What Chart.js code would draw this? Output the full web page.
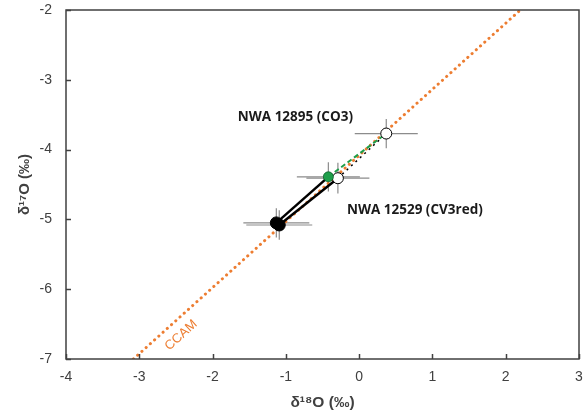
<!DOCTYPE html>
<html>
<head>
<meta charset="utf-8">
<script src="https://cdn.jsdelivr.net/npm/chart.js@4"></script>
<style>
  html, body { margin: 0; padding: 0; background: #fff; }
  #wrap { width: 586px; height: 414px; }
</style>
</head>
<body>
<div id="wrap"><canvas id="oxygenChart"></canvas></div>
<script>
// CCAM reference line end points (d18O, d17O)
var ccamX = [-3.08, 2.2];
var ccamY = [-7.0, -2.0];

// filled black points
var blackX = [-1.13, -1.09];
var blackY = [-5.05, -5.08];
var blackErrX = [0.45, 0.45];
var blackErrY = [0.21, 0.21];

// filled green point
var greenX = [-0.42];
var greenY = [-4.39];
var greenErrX = [0.43];
var greenErrY = [0.21];

// open circles
var openX = [0.37, -0.29];
var openY = [-3.77, -4.41];
var openErrX = [0.43, 0.43];
var openErrY = [0.21, 0.22];

var sampleNames = ['NWA 12895 (CO3)', 'NWA 12529 (CV3red)'];

function pts(xs, ys) {
    return xs.map(function (x, i) { return { x: x, y: ys[i] }; });
}

var errorSets = [
    { xs: blackX, ys: blackY, ex: blackErrX, ey: blackErrY },
    { xs: greenX, ys: greenY, ex: greenErrX, ey: greenErrY },
    { xs: openX, ys: openY, ex: openErrX, ey: openErrY }
];

var extrasPlugin = {
    id: 'extras',
    beforeDatasetsDraw: function (chart) {
        var ctx = chart.ctx, xs = chart.scales.x, ys = chart.scales.y;
        ctx.save();
        ctx.strokeStyle = '#8c8c8c';
        ctx.lineWidth = 1.2;
        errorSets.forEach(function (s) {
            s.xs.forEach(function (x, i) {
                var y = s.ys[i];
                var px = xs.getPixelForValue(x), py = ys.getPixelForValue(y);
                ctx.beginPath();
                ctx.moveTo(xs.getPixelForValue(x - s.ex[i]), py);
                ctx.lineTo(xs.getPixelForValue(x + s.ex[i]), py);
                ctx.moveTo(px, ys.getPixelForValue(y - s.ey[i]));
                ctx.lineTo(px, ys.getPixelForValue(y + s.ey[i]));
                ctx.stroke();
            });
        });
        ctx.restore();
    },
    afterDraw: function (chart) {
        var ctx = chart.ctx, a = chart.chartArea, xs = chart.scales.x, ys = chart.scales.y;
        ctx.save();
        // frame
        ctx.strokeStyle = '#404040';
        ctx.lineWidth = 1.5;
        ctx.strokeRect(a.left, a.top, a.right - a.left, a.bottom - a.top);
        // inward ticks on both axes
        ctx.beginPath();
        xs.ticks.forEach(function (t) {
            var p = Math.round(xs.getPixelForValue(t.value)) + 0.5;
            ctx.moveTo(p, a.bottom);
            ctx.lineTo(p, a.bottom - 5);
        });
        ys.ticks.forEach(function (t) {
            var p = Math.round(ys.getPixelForValue(t.value)) + 0.5;
            ctx.moveTo(a.left, p);
            ctx.lineTo(a.left + 5, p);
        });
        ctx.stroke();

        // sample labels
        ctx.fillStyle = '#1a1a1a';
        ctx.font = 'bold 13.5px "Open Sans", "Liberation Sans", sans-serif';
        ctx.textAlign = 'center';
        ctx.textBaseline = 'middle';
        ctx.fillText(sampleNames[0], xs.getPixelForValue(-0.87), ys.getPixelForValue(-3.53));
        ctx.fillText(sampleNames[1], xs.getPixelForValue(0.76), ys.getPixelForValue(-4.87));

        // CCAM label along the line
        var lx = xs.getPixelForValue(-2.43), ly = ys.getPixelForValue(-6.66);
        var ang = Math.atan2(ys.getPixelForValue(ccamY[1]) - ys.getPixelForValue(ccamY[0]),
                             xs.getPixelForValue(ccamX[1]) - xs.getPixelForValue(ccamX[0]));
        ctx.translate(lx, ly);
        ctx.rotate(ang);
        ctx.fillStyle = '#ED7D31';
        ctx.font = '13px "Liberation Sans", Arial, sans-serif';
        ctx.fillText('CCAM', 0, 0);
        ctx.restore();
    }
};

var ctx = document.getElementById('oxygenChart').getContext('2d');

var chart = new Chart(ctx, {
    type: 'scatter',
    data: {
        datasets: [
            {
                label: 'black points',
                data: pts(blackX, blackY),
                backgroundColor: '#000',
                borderColor: '#000',
                pointRadius: 6,
                order: 1
            },
            {
                label: 'green point',
                data: pts(greenX, greenY),
                backgroundColor: '#1e9e4a',
                borderColor: '#0d5e2a',
                borderWidth: 0.8,
                pointRadius: 5,
                order: 2
            },
            {
                label: 'open points',
                data: pts(openX, openY),
                backgroundColor: '#fff',
                borderColor: '#000',
                borderWidth: 1,
                pointRadius: 5.5,
                order: 3
            },
            {
                label: 'green trend',
                data: [{ x: greenX[0], y: greenY[0] }, { x: openX[0], y: openY[0] }],
                showLine: true,
                borderColor: '#1e9e4a',
                borderWidth: 2,
                borderDash: [5, 3],
                pointRadius: 0,
                order: 4
            },
            {
                label: 'open trend',
                data: [{ x: openX[1], y: openY[1] }, { x: openX[0], y: openY[0] }],
                showLine: true,
                borderColor: '#000',
                borderWidth: 1.5,
                borderDash: [2, 4],
                pointRadius: 0,
                order: 5
            },
            {
                label: 'black trend 1',
                data: [{ x: blackX[0], y: blackY[0] }, { x: greenX[0], y: greenY[0] }],
                showLine: true,
                borderColor: '#000',
                borderWidth: 2.5,
                pointRadius: 0,
                order: 6
            },
            {
                label: 'black trend 2',
                data: [{ x: blackX[1], y: blackY[1] }, { x: openX[1], y: openY[1] }],
                showLine: true,
                borderColor: '#000',
                borderWidth: 2.5,
                pointRadius: 0,
                order: 7
            },
            {
                label: 'CCAM',
                data: pts(ccamX, ccamY),
                showLine: true,
                borderColor: '#ED7D31',
                borderWidth: 3,
                borderDash: [0.1, 5.6],
                borderCapStyle: 'round',
                pointRadius: 0,
                order: 8
            }
        ]
    },
    options: {
        responsive: true,
        maintainAspectRatio: false,
        animation: false,
        layout: { padding: { top: 10, right: 5, left: 0, bottom: 0 } },
        plugins: {
            legend: { display: false },
            tooltip: { enabled: false }
        },
        scales: {
            x: {
                type: 'linear',
                min: -4,
                max: 3,
                ticks: {
                    stepSize: 1,
                    padding: 10,
                    color: '#404040',
                    font: { family: '"Liberation Sans", Arial, sans-serif', size: 14 }
                },
                grid: { display: false, drawTicks: false },
                border: { display: false },
                title: {
                    display: true,
                    text: 'δ¹⁸O (‰)',
                    color: '#404040',
                    padding: { top: 3, bottom: 2 },
                    font: { family: '"Liberation Sans", Arial, sans-serif', size: 15.5, weight: 'bold' }
                },
                afterFit: function (s) {
                    s.height = 55;
                    s.paddingLeft = 0;
                    s.paddingRight = 0;
                }
            },
            y: {
                type: 'linear',
                min: -7,
                max: -2,
                ticks: {
                    stepSize: 1,
                    padding: 14,
                    color: '#404040',
                    font: { family: '"Liberation Sans", Arial, sans-serif', size: 14 }
                },
                grid: { display: false, drawTicks: false },
                border: { display: false },
                title: {
                    display: true,
                    text: 'δ¹⁷O (‰)',
                    color: '#404040',
                    padding: { top: 16, bottom: 0 },
                    font: { family: '"Liberation Sans", Arial, sans-serif', size: 15, weight: 'bold' }
                },
                afterFit: function (s) {
                    s.width = 66;
                    s.paddingTop = 0;
                    s.paddingBottom = 0;
                }
            }
        }
    },
    plugins: [extrasPlugin]
});
</script>
</body>
</html>
